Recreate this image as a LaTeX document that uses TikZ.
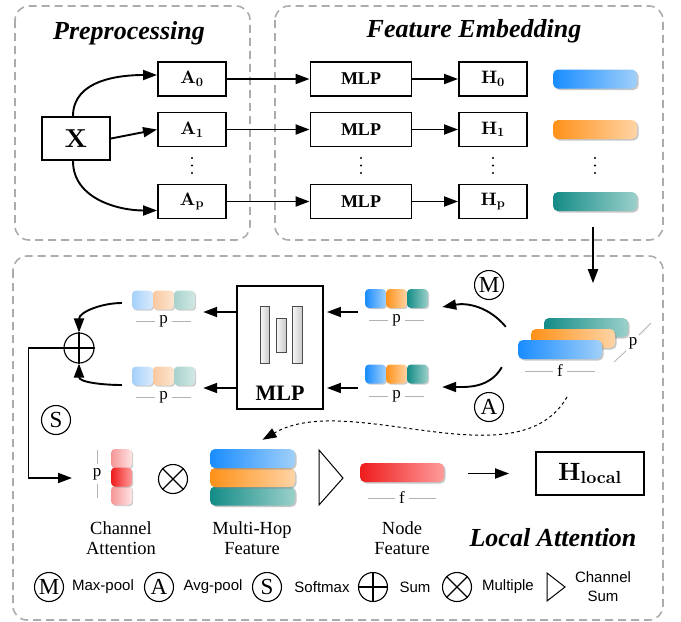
\documentclass[tikz,border=0pt]{standalone}
\usepackage[no-math]{fontspec}
\setmainfont{Liberation Serif}
\newfontfamily\legendfont{Liberation Sans}
\newfontfamily\lmfont{lmroman10-bold.otf}
\usetikzlibrary{arrows.meta,shadows}

% feature colours (saturated end / light end)
\definecolor{hopblue}{RGB}{25,140,255}
\definecolor{hopbluel}{RGB}{160,208,250}
\definecolor{hoporange}{RGB}{255,145,25}
\definecolor{hoporangel}{RGB}{255,212,165}
\definecolor{hopteal}{RGB}{20,140,135}
\definecolor{hoptealL}{RGB}{155,208,202}
\definecolor{attred}{RGB}{238,28,28}
\definecolor{attredl}{RGB}{255,155,155}
\definecolor{attpink}{RGB}{245,150,150}
\definecolor{attpinkl}{RGB}{255,228,228}
\definecolor{pastblue}{RGB}{165,208,250}
\definecolor{pastbluel}{RGB}{218,235,252}
\definecolor{pastorange}{RGB}{250,200,160}
\definecolor{pastorangel}{RGB}{252,230,208}
\definecolor{pastteal}{RGB}{168,210,204}
\definecolor{pasttealL}{RGB}{210,232,228}

\tikzset{
  arr/.style={->, line width=1.9pt},
  blk/.style={draw, line width=1.9pt, minimum height=34pt, inner sep=0pt},
  region/.style={draw=gray!65, line width=1.6pt, dash pattern=on 8pt off 5pt, rounded corners=14pt},
  title/.style={font=\fontsize{26}{28}\selectfont\bfseries\itshape},
  sym/.style={font=\lmfont\fontsize{#1}{#1}\selectfont},
  lbl/.style={font=\fontsize{18.5}{20}\selectfont, align=center},
  dimtxt/.style={font=\fontsize{17}{17}\selectfont, inner sep=4pt},
  dimline/.style={draw=gray!60, line width=0.8pt},
  legend/.style={font=\legendfont\fontsize{15}{17}\selectfont, align=center},
  op/.style={circle, draw, line width=1.1pt, minimum size=29pt, inner sep=0pt, font=\fontsize{23}{23}\selectfont},
  % long feature bars
  feat/.style={rounded corners=5pt, minimum width=84pt, minimum height=19pt, inner sep=0pt,
    drop shadow={shadow xshift=1.5pt, shadow yshift=-1.5pt, opacity=0.45}},
  fblue/.style={feat, left color=hopblue, right color=hopbluel},
  forange/.style={feat, left color=hoporange, right color=hoporangel},
  fteal/.style={feat, left color=hopteal, right color=hoptealL},
  fred/.style={feat, left color=attred, right color=attredl},
  % small pooled cells
  cell/.style={rounded corners=4pt, minimum width=21pt, minimum height=19pt, inner sep=0pt,
    drop shadow={shadow xshift=1.2pt, shadow yshift=-1.2pt, opacity=0.4}},
  layer/.style={draw=gray!60!black, line width=0.8pt, left color=gray!5, right color=gray!40, inner sep=0pt},
}

\begin{document}
\begin{tikzpicture}[x=1pt, y=-1pt, >={Triangle[length=14pt,width=10pt]}]
    \useasboundingbox (0,0) rectangle (681,622);
    % Cornici dei tre blocchi
    \draw[region] (15,6) rectangle (250,240);
    \draw[region] (275,6) rectangle (663,240);
    \draw[region] (13,256) rectangle (663,620);
    \node[title] (pretitle) at (129,33) {Preprocessing};
    \node[title] (fetitle) at (474,31) {Feature Embedding};

    % Preprocessing
    \node[blk, minimum width=68pt, minimum height=43pt, sym=26] (x) at (76,138.5) {X};
    \foreach \i/\y/\c in {0/79/fblue, 1/129.5/forange, p/201.5/fteal} {
        \node[blk, minimum width=68pt, sym=18] (a\i) at (192,\y) {A\textsubscript{\i}};
        \node[blk, minimum width=101pt, font=\fontsize{18}{18}\selectfont\bfseries] (mlp\i) at (361,\y) {MLP};
        \node[blk, minimum width=68pt, sym=18] (h\i) at (493,\y) {H\textsubscript{\i}};
        \node[\c] (bar\i) at (595,\y) {};
        \draw[arr] (a\i) -- (mlp\i);
        \draw[arr] (mlp\i) -- (h\i);
    }
    \draw[arr] ([xshift=-3pt]x.north) to[out=90,in=180] ([yshift=4pt]a0.west);
    \draw[arr] (x.east) -- (a1.west);
    \draw[arr] ([xshift=-3pt]x.south) to[out=-90,in=180] ([yshift=-9pt]ap.west);
    % puntini verticali
    \foreach \xx in {192,361,493,595}
        \foreach \yy in {158,165.5,173}
            \fill (\xx,\yy) circle (1.2pt);
    \draw[arr] ([shift={(-2pt,-16pt)}]barp.south) -- ++(0,56);

    % Local Attention: stacked hop features
    \node[fteal] (st3) at (586,327.5) {};
    \node[forange] (st2) at (573,338.5) {};
    \node[fblue] (st1) at (560,349.5) {};
    \node[dimtxt] (stf) at (560,371) {f};
    \draw[dimline] (stf.west) -- ++(-28,0) (stf.east) -- ++(28,0);
    \node[dimtxt] (stp) at (633,343) {p};
    \draw[dimline] (614,362) -- (626,351) (639,335) -- (651,323);

    \node[op] (mx) at (489,285) {M};
    \node[op] (av) at (489,407) {A};

    % pooled vectors before the MLP
    \foreach \r/\y/\ly in {mx/298.5/320, av/374/396} {
        \node[cell, left color=hopblue, right color=hopbluel] (\r r1) at (375.5,\y) {};
        \node[cell, left color=hoporange, right color=hoporangel] (\r r2) at (396.5,\y) {};
        \node[cell, left color=hopteal, right color=hoptealL] (\r r3) at (417.5,\y) {};
        \node[dimtxt] (\r rp) at (396.5,\ly) {p};
        \draw[dimline] (\r rp.west) -- ++(-19,0) (\r rp.east) -- ++(19,0);
    }
    \draw[arr] ([shift={(-12pt,13pt)}]st1.north west) to[out=130,in=10] ([shift={(14pt,-8.5pt)}]mxr3.east);
    \draw[arr] ([shift={(-16pt,-8pt)}]st1.south west) to[out=-120,in=0] ([shift={(14pt,-13pt)}]avr3.east);

    % shared MLP
    \coordinate (row1) at (0,312);
    \coordinate (row2) at (0,388);
    \node[blk, minimum width=86pt, minimum height=123pt] (mlpl) at (280,347.5) {};
    \node[layer, minimum width=9pt, minimum height=57pt] (ly1) at (264.5,334.5) {};
    \node[layer, minimum width=10pt, minimum height=34pt] (ly2) at (281,335) {};
    \node[layer, minimum width=10pt, minimum height=57pt] (ly3) at (297,334.5) {};
    \node[font=\fontsize{22}{22}\selectfont\bfseries] (mlplt) at (280,393) {MLP};
    \draw[arr, shorten <=7pt, shorten >=3pt] (mxr1.west |- row1) -- (mlpl.east |- row1);
    \draw[arr, shorten <=7pt, shorten >=3pt] (avr1.west |- row2) -- (mlpl.east |- row2);

    % pooled vectors after the MLP
    \foreach \r/\y/\ly in {ml/300/321, al/376/397} {
        \node[cell, left color=pastblue, right color=pastbluel] (\r 1) at (142.5,\y) {};
        \node[cell, left color=pastorange, right color=pastorangel] (\r 2) at (163.5,\y) {};
        \node[cell, left color=pastteal, right color=pasttealL] (\r 3) at (184.5,\y) {};
        \node[dimtxt] (\r p) at (163.5,\ly) {p};
        \draw[dimline] (\r p.west) -- ++(-19,0) (\r p.east) -- ++(19,0);
    }
    \draw[arr, shorten >=8pt] (mlpl.west |- row1) -- (ml3.east |- row1);
    \draw[arr, shorten >=8pt] (mlpl.west |- row2) -- (al3.east |- row2);

    % somma e softmax
    \node[op, minimum size=30pt] (sum) at (79,348) {};
    \draw[line width=1.1pt] (sum.north) -- (sum.south) (sum.west) -- (sum.east);
    \draw[arr] ([shift={(-10pt,-3pt)}]ml1.west) to[out=180,in=90] (sum.north);
    \draw[arr] ([shift={(-10pt,-9pt)}]al1.west) to[out=180,in=-90] (sum.south);
    \node[op] (smx) at (56,420) {S};
    \coordinate (cain) at (72,478);
    \draw[arr] (sum.west) -- ++(-35,0) |- (cain);

    % channel attention
    \node[cell, left color=attpink, right color=attpinkl] (ca1) at (121.5,458.5) {};
    \node[cell, left color=attpink, right color=attpinkl] (ca3) at (121.5,495.5) {};
    \node[cell, left color=attred, right color=attredl] (ca2) at (121.5,477) {};
    \node[dimtxt] (cap) at (97,474) {p};
    \draw[dimline] (cap.north) -- ++(0,-14) (cap.south) -- ++(0,14);
    \node[op] (mul) at (173,479) {};
    \draw[line width=1.1pt] (mul.north west) -- (mul.south east) (mul.north east) -- (mul.south west);

    % multi-hop feature
    \node[fteal, minimum width=85pt] (mh3) at (252.5,496) {};
    \node[forange, minimum width=85pt] (mh2) at (252.5,477.5) {};
    \node[fblue, minimum width=85pt] (mh1) at (252.5,458.5) {};
    \draw[line width=1pt] (319,450) -- (343,478) -- (319,505) -- cycle;

    % node feature
    \node[fred] (nf) at (402,472.5) {};
    \node[dimtxt] (nff) at (402,498) {f};
    \draw[dimline] (nff.west) -- ++(-27,0) (nff.east) -- ++(27,0);
    \node[blk, minimum width=108pt, minimum height=43pt, sym=25] (hloc) at (590,473.5) {H\textsubscript{local}};
    \draw[arr, shorten <=24pt, shorten >=26pt] (nf.east |- hloc.west) -- (hloc.west);

    \coordinate (hopsrc) at (567,397);
    \draw[->, dashed, line width=1pt] (hopsrc) to[out=-120,in=30,distance=100pt] ([shift={(10pt,9pt)}]mh1.north);

    \node[lbl] (calbl) at (121,538) {Channel\\Attention};
    \node[lbl] (mhlbl) at (252,538) {Multi-Hop\\Feature};
    \node[lbl] (nflbl) at (402,538) {Node\\Feature};
    \node[title] (latitle) at (553,538) {Local Attention};

    % Legenda
    \foreach \s/\xs/\t/\xt in {M/49/Max-pool/103, A/159/Avg-pool/213, S/267/Softmax/322} {
        \node[op] (lg\s) at (\xs,587) {\s};
        \node[legend] at (\xt,587) {\t};
    }
    \node[op] (lgsum) at (373,587) {};
    \draw[line width=1.1pt] (lgsum.north) -- (lgsum.south) (lgsum.west) -- (lgsum.east);
    \node[legend] at (415,587) {Sum};
    \node[op] (lgmul) at (457,587) {};
    \draw[line width=1.1pt] (lgmul.north west) -- (lgmul.south east) (lgmul.north east) -- (lgmul.south west);
    \node[legend] at (508,587) {Multiple};
    \draw[line width=1pt] (547,573) -- (565,587) -- (547,601) -- cycle;
    \node[legend, font=\legendfont\fontsize{15}{19}\selectfont] at (603,587) {Channel\\Sum};
\end{tikzpicture}
\end{document}
